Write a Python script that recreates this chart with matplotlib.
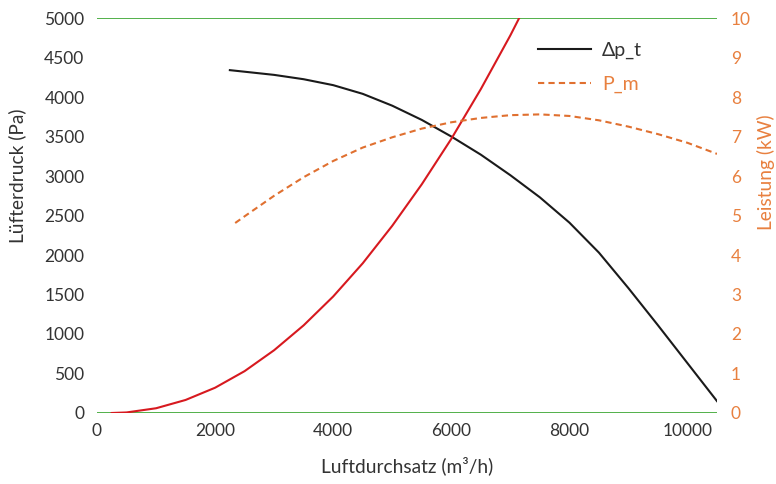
import numpy as np
import matplotlib
matplotlib.use('Agg')
import matplotlib.pyplot as plt

plt.rcParams['font.family'] = ['Lato', 'DejaVu Sans']

# Luefterkennlinie (Druck)
q_dp = [2250, 2500, 3000, 3500, 4000, 4500, 5000, 5500, 6000, 6500, 7000, 7500, 8000, 8500, 9000, 9500, 10000, 10500]
dp_t = [4340, 4320, 4280, 4225, 4150, 4040, 3890, 3710, 3500, 3270, 3010, 2730, 2410, 2030, 1580, 1110, 630, 150]

# Anlagenkennlinie
q_sys = [250, 500, 1000, 1500, 2000, 2500, 3000, 3500, 4000, 4500, 5000, 5500, 6000, 6500, 7000, 7150]
dp_sys = [0, 7, 60, 165, 320, 530, 795, 1110, 1475, 1895, 2370, 2895, 3470, 4100, 4780, 5000]

# Wellenleistung
q_pm = [2340, 2500, 3000, 3500, 4000, 4500, 5000, 5500, 6000, 6500, 7000, 7500, 8000, 8500, 9000, 9500, 10000, 10500]
p_m = [4.81, 4.98, 5.50, 5.97, 6.38, 6.72, 6.98, 7.20, 7.36, 7.47, 7.54, 7.56, 7.52, 7.41, 7.25, 7.06, 6.84, 6.56]

col_black = '#1a1a1a'
col_red = '#d7191f'
col_orange = '#e07030'
col_orange_txt = '#e8803f'
col_green = '#44aa3c'
col_text = '#333333'

fig = plt.figure(figsize=(7.76, 4.84), dpi=100)
ax = fig.add_axes([0.125, 0.1467, 0.799, 0.8161])
ax2 = ax.twinx()

ax.axhline(0, color=col_green, lw=1.3, zorder=1)
ax.axhline(5000, color=col_green, lw=1.3, zorder=1)

l1, = ax.plot(q_dp, dp_t, color=col_black, lw=1.5, label='Δp_t', zorder=3)
ax.plot(q_sys, dp_sys, color=col_red, lw=1.5, zorder=3)
l2, = ax2.plot(q_pm, p_m, color=col_orange, lw=1.5, dashes=(3, 2), label='P_m')

ax.set_xlim(0, 10500)
ax.set_ylim(0, 5000)
ax2.set_ylim(0, 10)
ax.set_xticks([0, 2000, 4000, 6000, 8000, 10000])
ax.set_yticks(np.arange(0, 5001, 500))
ax2.set_yticks(np.arange(0, 11, 1))

for a in (ax, ax2):
    for s in a.spines.values():
        s.set_visible(False)

ax.tick_params(axis='both', length=0, labelsize=12.5, colors=col_text)
ax.tick_params(axis='y', pad=9)
ax.tick_params(axis='x', pad=7)
ax2.tick_params(axis='y', length=0, labelsize=12.5, colors=col_orange_txt, pad=10)

ax.set_xlabel('Luftdurchsatz (m³/h)', fontsize=13.8, color=col_text, labelpad=13)
ax.set_ylabel('Lüfterdruck (Pa)', fontsize=13.8, color=col_text, labelpad=13)
ax2.set_ylabel('Leistung (kW)', fontsize=13.8, color=col_orange_txt, labelpad=4)
ax.yaxis.label.set_y(0.60)
ax2.yaxis.label.set_y(0.61)

leg = ax2.legend(handles=[l1, l2], loc='upper left', bbox_to_anchor=(0.683, 0.983),
                 frameon=False, fontsize=14, handlelength=2.75,
                 labelspacing=0.85, handletextpad=0.55)
leg.get_texts()[0].set_color(col_text)
leg.get_texts()[1].set_color(col_orange_txt)

fig.savefig('out.png', dpi=100)
